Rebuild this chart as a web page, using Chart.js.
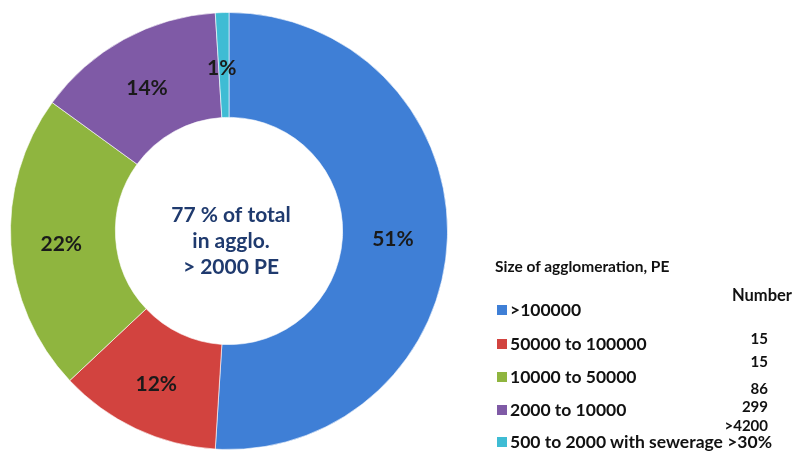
<!DOCTYPE html>
<html>
<head>
<script src="https://cdn.jsdelivr.net/npm/chart.js"></script>
<style>
  body { margin: 0; background: #fff; }
  #wrap { position: relative; width: 794px; height: 454px; }
  .lg { position: absolute; font-family: Lato, "Open Sans", sans-serif; font-weight: bold; color: #111; white-space: nowrap; }
  .sq { display: inline-block; width: 10px; height: 10px; margin-right: 3px; vertical-align: 1px; }
</style>
</head>
<body>
<div id="wrap">
  <canvas id="myChart" width="794" height="454"></canvas>
</div>
<script>
  // slices, clockwise from top
  var categories = ['>100000', '50000 to 100000', '10000 to 50000', '2000 to 10000', '500 to 2000 with sewerage >30%'];
  var shares = [51, 12, 22, 14, 1];
  var colors = ['#3f7fd6', '#d2433f', '#8fb53f', '#7f5aa6', '#3fbcd4'];
  // "Number" column, as it is laid out in the picture
  var numbers = ['15', '15', '86', '299', '>4200'];
  var centerLines = ['77 % of total', 'in agglo.', '> 2000 PE'];

  var wrap = document.getElementById('wrap');
  function addText(txt, x, y, size, extra) {
    var d = document.createElement('div');
    d.className = 'lg';
    d.style.left = x + 'px';
    d.style.top = y + 'px';
    d.style.fontSize = size + 'px';
    d.innerHTML = txt;
    if (extra) Object.assign(d.style, extra);
    wrap.appendChild(d);
    return d;
  }

  // legend
  addText('Size of agglomeration, PE', 495, 257, 15.5);
  addText('Number', 732, 285, 16.5);
  var legendTop = [299, 333, 366, 399, 431];
  categories.forEach(function (c, i) {
    var t = c.replace(/>/g, '&gt;');
    addText('<span class="sq" style="background:' + colors[i] + '"></span>' + t, 497, legendTop[i], 17.5);
  });
  var numTop = [329, 352, 379, 397, 416];
  numbers.forEach(function (n, i) {
    addText(n.replace(/>/g, '&gt;'), 700, numTop[i], 15, { width: '68px', textAlign: 'right' });
  });

  // labels on slices + center text
  var labelPlugin = {
    id: 'labels',
    afterDatasetsDraw: function (chart) {
      var ctx = chart.ctx;
      var meta = chart.getDatasetMeta(0);
      ctx.save();
      ctx.textAlign = 'center';
      ctx.textBaseline = 'middle';
      ctx.font = 'bold 21px Lato, sans-serif';
      ctx.fillStyle = '#1a1a1a';
      meta.data.forEach(function (arc, i) {
        var p = arc.tooltipPosition();
        ctx.fillText(shares[i] + '%', p.x - 2, p.y + 3);
      });
      var cx = meta.data[0].x, cy = meta.data[0].y;
      ctx.fillStyle = '#1f3a6e';
      ctx.font = 'bold 21px Lato, sans-serif';
      centerLines.forEach(function (l, i) {
        ctx.fillText(l, cx + 2, cy - 16 + i * 26);
      });
      ctx.restore();
    }
  };

  new Chart(document.getElementById('myChart'), {
    type: 'doughnut',
    data: {
      labels: categories,
      datasets: [{
        data: shares,
        backgroundColor: colors,
        borderColor: 'rgba(255,255,255,0.6)',
        borderWidth: 1
      }]
    },
    options: {
      responsive: false,
      animation: false,
      cutout: '52%',
      layout: { padding: { left: 10, top: 12, bottom: 4, right: 346 } },
      plugins: {
        legend: { display: false },
        tooltip: { enabled: false }
      }
    },
    plugins: [labelPlugin]
  });
</script>
</body>
</html>
